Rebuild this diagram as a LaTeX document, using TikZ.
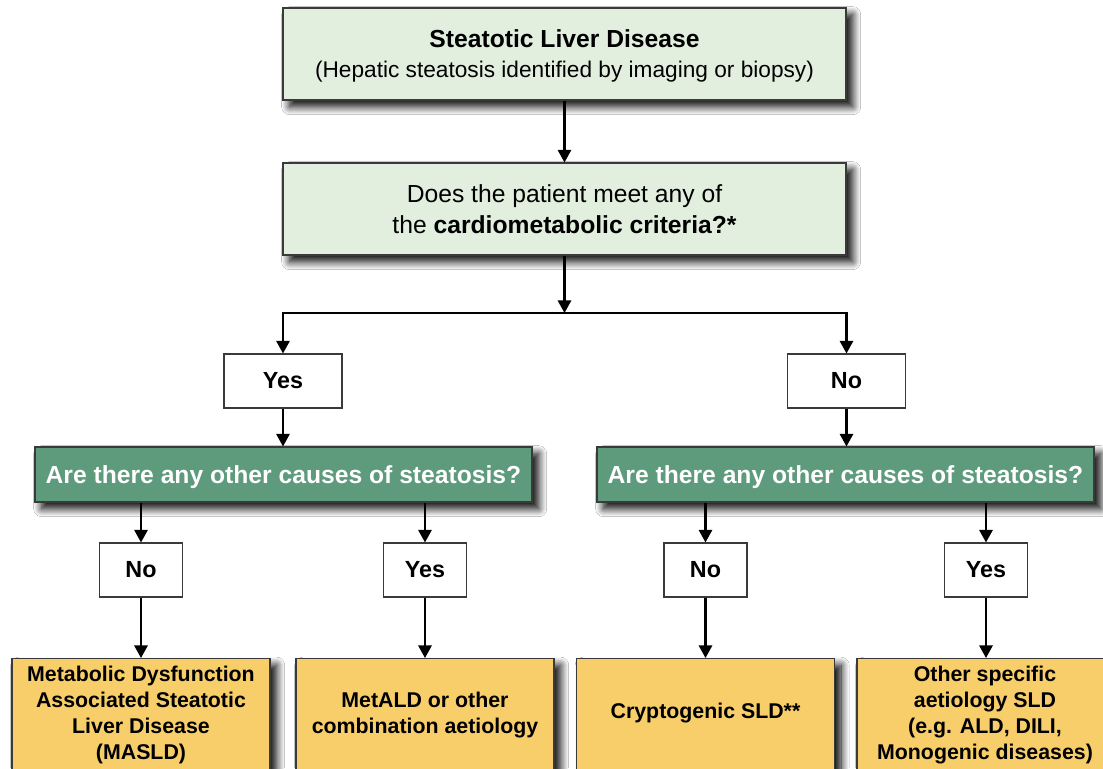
\documentclass[tikz,border=0pt]{standalone}
\usepackage{fontspec}
\setmainfont{Liberation Sans}
\usetikzlibrary{arrows.meta,shadows.blur,calc}
\definecolor{lgreen}{HTML}{E2EFDF}
\definecolor{dgreen}{HTML}{5E9A7C}
\definecolor{ora}{HTML}{F8CE6B}
\definecolor{bord}{HTML}{3A3A3A}
\tikzset{
  box/.style={draw=bord, line width=0.8pt, inner sep=0pt, align=center},
  shad/.style={blur shadow={shadow xshift=5pt, shadow yshift=-5pt, shadow blur radius=6pt, shadow blur steps=14, shadow opacity=100}},
  topbox/.style={box, shad, fill=lgreen, minimum width=422.25pt, minimum height=69pt,
     text depth=0pt, font=\fontsize{17}{22.5}\selectfont},
  qbox/.style={box, shad, fill=lgreen, minimum width=422.25pt, minimum height=69pt,
     font=\fontsize{18.5}{23}\selectfont},
  ynbox/.style={box, fill=white, minimum height=40.5pt, font=\fontsize{17.5}{20}\selectfont\bfseries},
  gbox/.style={box, shad, fill=dgreen, text=white, minimum width=372.75pt, minimum height=41.25pt,
     text depth=0pt, font=\fontsize{18.5}{22}\selectfont\bfseries},
  obox/.style={box, shad, fill=ora, anchor=north, minimum width=193.5pt, minimum height=106.5pt},
  otext/.style={inner sep=0pt, align=center, font=\fontsize{16}{19.5}\selectfont\bfseries},
  conn/.style={line width=1.7pt, -{Triangle[width=10pt,length=9.5pt]}},
}
\begin{document}
\begin{tikzpicture}[x=0.75pt,y=-0.75pt]
\clip (0,0) rectangle (1103,768);
\fill[white] (0,0) rectangle (1103,768);
% boxes
\node[topbox] (top) at (564.5,54) {{\bfseries\fontsize{18.5}{22.5}\selectfont Steatotic Liver Disease}\\(Hepatic steatosis identified by imaging or biopsy)};
\node[qbox] (q) at (564.5,209) {Does the patient meet any of\\the \textbf{cardiometabolic criteria?*}};
\coordinate (j) at (564.5,313);
\node[ynbox, minimum width=88.5pt] (yes1) at (283,381) {Yes};
\node[ynbox, minimum width=88.5pt] (no1) at (846.5,381) {No};
\node[gbox] (g1) at (283.5,474.5) {Are there any other causes of steatosis?};
\node[gbox] (g2) at (845.5,474.5) {Are there any other causes of steatosis?};
\node[ynbox, minimum width=62.25pt] (n2) at (141,570) {No};
\node[ynbox, minimum width=62.25pt] (y2) at (425,570) {Yes};
\node[ynbox, minimum width=62.25pt] (n3) at (705.5,570) {No};
\node[ynbox, minimum width=62.25pt] (y3) at (986,570) {Yes};
\node[obox] (m1) at (141,658) {};
\node[obox] (m2) at (425,658) {};
\node[obox] (m3) at (705.5,658) {};
\node[obox] (m4) at (986,658) {};
\node[otext] (m1t) at (141,715) {Metabolic Dysfunction\\Associated Steatotic\\Liver Disease\\(MASLD)};
\node[otext] (m2t) at (425,715) {MetALD or other\\combination aetiology};
\node[otext] (m3t) at (705.5,713) {Cryptogenic SLD**};
\node[otext] (m4t) at (985,715) {Other specific\\aetiology SLD\\(e.g. ALD, DILI,\\Monogenic diseases)};
% connectors
\draw[conn] (top) -- (q);
\draw[conn] (q) -- (j);
\draw[conn] (j) -| (yes1.north);
\draw[conn] (j) -| (no1.north);
\draw[conn] (yes1.south) -- (yes1.south |- g1.north);
\draw[conn] (no1.south) -- (no1.south |- g2.north);
\draw[conn] (g1.south -| n2.north) -- (n2.north);
\draw[conn] (g1.south -| y2.north) -- (y2.north);
\draw[conn] (g2.south -| n3.north) -- (n3.north);
\draw[conn] (g2.south -| y3.north) -- (y3.north);
\draw[conn] (n2.south) -- (n2.south |- m1.north);
\draw[conn] (y2.south) -- (y2.south |- m2.north);
\draw[conn] (n3.south) -- (n3.south |- m3.north);
\draw[conn] (y3.south) -- (y3.south |- m4.north);
\end{tikzpicture}
\end{document}
